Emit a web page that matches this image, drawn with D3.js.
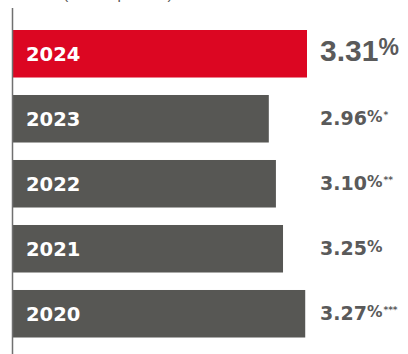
<!DOCTYPE html>
<html>
<head>
<meta charset="utf-8">
<script src="https://cdn.jsdelivr.net/npm/d3@7"></script>
<style>
  body { margin: 0; background: #fff; }
  svg { display: block; }
</style>
</head>
<body>
<div id="chart"></div>
<script>
// data
var years = ["2024", "2023", "2022", "2021", "2020"];
var values = [3.31, 2.96, 3.10, 3.25, 3.27];
var valueLabels = ["3.31", "2.96", "3.10", "3.25", "3.27"];
var notes = ["", "*", "**", "", "***"];
// bar lengths as drawn in the source (the bars are not to scale with the labels)
var barShown = [3.31, 2.88, 2.96, 3.04, 3.29];

var svgWidth = 408;
var svgHeight = 354;

var svg = d3.select("#chart")
  .append("svg")
  .attr("width", svgWidth)
  .attr("height", svgHeight);

var xScale = d3.scaleLinear()
  .domain([0, 3.31])
  .range([13, 307]);

var yScale = d3.scaleBand()
  .domain(years)
  .range([21.25, 346.25])
  .paddingInner(0.269)
  .paddingOuter(0.1346);

var rows = years.map(function(y, i) {
  return { year: y, value: values[i], label: valueLabels[i], note: notes[i], shown: barShown[i] };
});

// partly cut-off heading at the top
svg.append("text")
  .attr("x", 14)
  .attr("y", -1)
  .style("font-family", "Liberation Sans, Arial, sans-serif")
  .style("font-size", "15px")
  .attr("fill", "#555")
  .text("Return (annual percent)");

// bars
svg.selectAll("rect.bar")
  .data(rows)
  .enter()
  .append("rect")
  .attr("class", "bar")
  .attr("x", xScale(0))
  .attr("y", d => yScale(d.year))
  .attr("width", d => xScale(d.shown) - xScale(0))
  .attr("height", yScale.bandwidth())
  .attr("fill", (d, i) => i === 0 ? "#dc0622" : "#575754");

// vertical axis line
svg.append("line")
  .attr("x1", 12.5)
  .attr("x2", 12.5)
  .attr("y1", 8)
  .attr("y2", svgHeight)
  .attr("stroke", "#707070")
  .attr("stroke-width", 1.5);

// year labels inside bars
svg.selectAll("text.year")
  .data(rows)
  .enter()
  .append("text")
  .attr("class", "year")
  .attr("x", 26)
  .attr("y", d => yScale(d.year) + yScale.bandwidth() / 2 + 7.3)
  .style("font-family", "DejaVu Sans, sans-serif")
  .style("font-weight", "bold")
  .style("font-size", "19.5px")
  .attr("fill", "#fff")
  .text(d => d.year);

// value labels
var valueText = svg.selectAll("text.value")
  .data(rows)
  .enter()
  .append("text")
  .attr("class", "value")
  .attr("x", 320)
  .attr("y", (d, i) => yScale(d.year) + yScale.bandwidth() / 2 + (i === 0 ? 7.2 : 6))
  .style("font-family", (d, i) => i === 0 ? "Liberation Sans, Arial, sans-serif" : "DejaVu Sans, sans-serif")
  .style("font-weight", "bold")
  .attr("fill", "#5a5a5a");

valueText.append("tspan")
  .style("font-size", (d, i) => i === 0 ? "30px" : "19px")
  .text(d => d.label);

valueText.append("tspan")
  .style("font-size", (d, i) => i === 0 ? "23px" : "15.5px")
  .attr("dy", (d, i) => i === 0 ? -5.5 : -2.5)
  .text("%");

valueText.append("tspan")
  .style("font-size", "9px")
  .attr("dx", 1)
  .attr("dy", -4.5)
  .text(d => d.note);
</script>
</body>
</html>
